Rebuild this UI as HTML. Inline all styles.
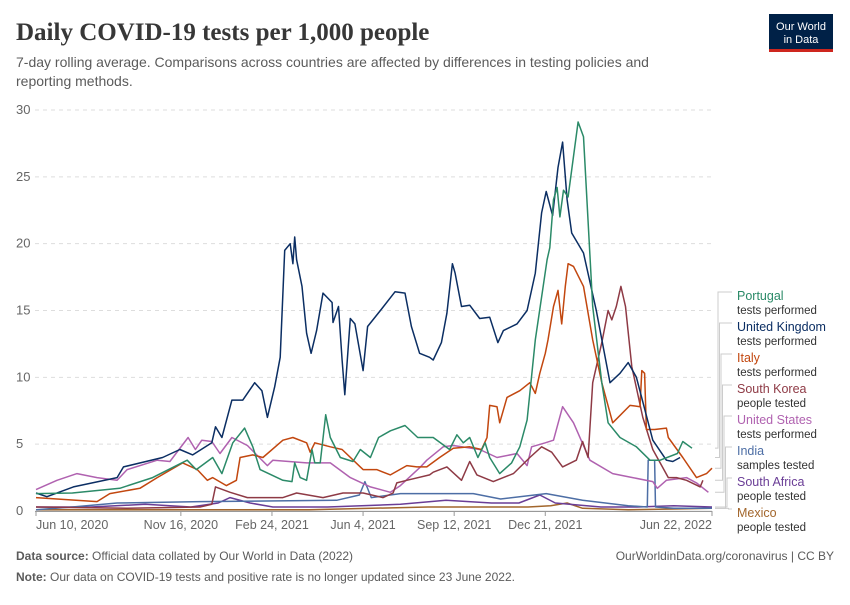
<!DOCTYPE html>
<html><head><meta charset="utf-8"><style>
body{margin:0;background:#fff;width:850px;height:600px;overflow:hidden;font-family:"Liberation Sans",sans-serif}
</style></head><body>
<svg width="850" height="600" xmlns="http://www.w3.org/2000/svg">
<text x="16" y="40" font-family="Liberation Serif,serif" font-size="25" font-weight="bold" fill="#373737">Daily COVID-19 tests per 1,000 people</text>
<text x="16" y="67" font-size="14" fill="#5b5b5b">7-day rolling average. Comparisons across countries are affected by differences in testing policies and</text>
<text x="16" y="86" font-size="14" fill="#5b5b5b">reporting methods.</text>
<g>
<rect x="769" y="14" width="64" height="38" fill="#002147"/>
<rect x="769" y="49" width="64" height="3" fill="#ce261e"/>
<text x="801" y="30" font-size="11" fill="#fff" text-anchor="middle">Our World</text>
<text x="801" y="43" font-size="11" fill="#fff" text-anchor="middle">in Data</text>
</g>
<g id="grid"></g><g id="xaxis"></g><g id="series"></g><g id="legend"></g>
<text x="16" y="560" font-size="12" fill="#5b5b5b"><tspan font-weight="bold">Data source:</tspan> Official data collated by Our World in Data (2022)</text>
<text x="834" y="560" font-size="12" fill="#5b5b5b" text-anchor="end">OurWorldinData.org/coronavirus | CC BY</text>
<text x="16" y="581" font-size="12" fill="#5b5b5b"><tspan font-weight="bold">Note:</tspan> Our data on COVID-19 tests and positive rate is no longer updated since 23 June 2022.</text>
</svg>
<script>
const yTicks=[0,5,10,15,20,25,30];
const xTickDays=[0,159,259,359,459,559,742];
const xTickLabels=["Jun 10, 2020","Nov 16, 2020","Feb 24, 2021","Jun 4, 2021","Sep 12, 2021","Dec 21, 2021","Jun 22, 2022"];
const seriesNames=["Portugal","United Kingdom","Italy","South Korea","United States","India","South Africa","Mexico"];
const seriesMetrics=["tests performed","tests performed","tests performed","people tested","tests performed","samples tested","people tested","people tested"];
const seriesColors=["#2b8a68","#0b2e63","#c2470f","#8e3a45","#b062b0","#4d6ea5","#6a3d96","#a2662c"];
const ukDays=[0,12,41,89,96,139,158,172,193,197,204,215,227,240,248,254,262,268,273,279,282,284,286,292,297,302,308,315,325,326,332,336,339,345,350,359,364,378,394,405,412,421,432,436,445,451,457,460,467,476,487,498,507,513,528,539,548,555,560,567,573,578,583,588,601,615,630,641,650,659,677,692,699,707];
const ukVals=[1.35,1.07,1.8,2.5,3.3,4.0,4.6,4.2,5.1,6.3,5.5,8.3,8.3,9.6,9.0,7.0,9.3,11.5,19.5,20.0,18.5,20.5,18.8,16.8,13.3,11.8,13.5,16.3,15.6,14.1,15.3,11.3,8.7,14.4,14.0,10.5,13.8,15.0,16.4,16.3,13.8,11.8,11.5,11.3,12.6,14.8,18.5,17.8,15.3,15.4,14.4,14.5,12.6,13.5,14.0,15.0,17.8,22.3,23.9,22.1,25.7,27.6,23.3,20.8,19.3,15.0,9.6,10.3,11.1,10.0,5.3,3.8,3.7,4.0];
const ptDays=[0,40,92,128,166,176,194,204,216,229,238,246,271,281,284,290,297,303,306,312,318,323,334,348,356,367,376,389,405,419,436,454,462,469,476,485,493,498,509,522,531,539,548,561,564,568,572,575,579,584,595,601,611,621,628,641,659,674,685,704,710,720];
const ptVals=[1.3,1.35,1.7,2.5,3.8,3.1,4.0,2.8,5.1,6.2,4.8,3.1,2.3,2.2,3.6,2.5,2.3,4.6,3.6,3.6,7.2,5.5,4.0,3.7,4.6,4.0,5.5,6.0,6.4,5.5,5.5,4.6,5.7,5.1,5.5,4.0,5.1,4.0,2.8,3.6,4.8,6.8,12.8,18.8,19.7,23.3,24.2,22.0,24.0,23.5,29.1,28.0,15.3,9.6,6.6,5.5,4.8,3.8,3.8,4.3,5.2,4.7];
const itDays=[0,67,81,114,133,161,177,188,194,209,220,224,238,249,271,282,297,301,306,323,336,356,359,374,389,407,418,429,443,458,476,489,495,498,506,509,517,531,542,548,553,559,562,568,573,577,581,584,590,601,611,621,633,652,663,665,668,670,679,692,694,710,725,736,742];
const itVals=[1.0,0.7,1.3,1.7,2.5,3.6,3.1,2.3,2.5,1.9,2.3,4.0,4.2,4.0,5.3,5.5,5.1,4.4,5.1,4.8,4.6,3.3,3.1,3.1,2.7,3.4,3.3,3.3,4.0,4.7,4.8,4.6,5.5,7.9,7.8,6.6,8.5,9.0,9.6,8.8,10.3,11.8,12.8,15.3,16.5,14.0,16.8,18.5,18.3,16.8,12.8,9.6,6.6,7.9,7.8,10.5,10.3,6.1,6.1,6.2,5.5,4.0,2.5,2.8,3.2];
const krDays=[0,100,180,193,197,213,232,257,271,286,315,337,359,381,392,396,407,432,436,451,467,476,484,502,524,542,555,566,578,593,600,606,611,621,628,632,637,642,647,654,666,677,694,703,714,729,732];
const krVals=[0.3,0.2,0.3,0.5,1.8,1.4,1.0,1.0,1.0,1.35,1.0,1.35,1.35,1.0,1.35,2.1,2.3,2.7,2.9,3.3,2.3,3.7,2.7,2.2,2.8,4.0,4.8,4.4,3.3,3.8,5.2,4.0,9.6,12.6,15.0,14.3,15.3,16.8,15.3,10.8,7.0,4.6,2.5,2.5,2.3,1.8,2.3];
const usDays=[0,23,45,67,89,100,133,147,167,175,182,193,202,215,232,254,260,297,323,345,367,389,400,422,429,447,458,487,506,528,539,544,559,568,578,590,608,633,655,677,682,692,714,725,738];
const usVals=[1.6,2.3,2.8,2.5,2.3,3.1,3.8,3.7,5.5,4.6,5.3,5.2,4.3,5.5,4.9,3.4,3.8,3.6,3.6,2.5,1.8,1.4,1.9,3.3,3.8,4.8,4.9,4.6,4.0,4.3,3.4,4.8,5.1,5.3,7.8,6.6,3.8,2.8,2.5,2.2,1.7,2.3,2.5,2.1,1.4];
const inDays=[0,40,89,180,330,355,361,368,400,480,510,560,600,650,671,672,679,680,700,742];
const inVals=[0.1,0.3,0.6,0.7,0.8,1.2,2.2,1.0,1.3,1.3,0.9,1.3,0.8,0.4,0.3,3.8,3.8,0.3,0.2,0.2];
const saDays=[0,60,120,170,200,213,235,260,320,400,450,500,530,553,570,620,660,700,742];
const saVals=[0.3,0.3,0.5,0.3,0.6,1.0,0.6,0.3,0.3,0.5,0.8,0.6,0.6,1.2,0.6,0.3,0.3,0.4,0.3];
const mxDays=[0,200,300,430,540,565,583,600,650,700,742];
const mxVals=[0.1,0.1,0.1,0.3,0.3,0.4,0.6,0.2,0.1,0.15,0.2];
const allDays=[ptDays,ukDays,itDays,krDays,usDays,inDays,saDays,mxDays];
const allVals=[ptVals,ukVals,itVals,krVals,usVals,inVals,saVals,mxVals];
const NS="http://www.w3.org/2000/svg";
const X0=36,X1=712,DMAX=742,Y0=511,YTOP=110,VMAX=30;
function xs(d){return X0+d*(X1-X0)/DMAX;}
function ys(v){return Y0-v*(Y0-YTOP)/VMAX;}
function mk(tag,attrs,parent){const e=document.createElementNS(NS,tag);for(const k in attrs)e.setAttribute(k,attrs[k]);parent.appendChild(e);return e;}
const grid=document.getElementById('grid');
yTicks.forEach(v=>{
  const l=mk('line',{x1:35,x2:X1,y1:ys(v),y2:ys(v),stroke:'#ddd','stroke-dasharray':v===0?'':'4,4'},grid);
  
  
  const t=mk('text',{x:16,y:ys(v)+4,'font-size':13,fill:'#666'},grid);t.textContent=v;
  
  
});
const xa=document.getElementById('xaxis');
mk('line',{x1:35,x2:X1,y1:Y0+0.5,y2:Y0+0.5,stroke:'#999'},xa);
xTickDays.forEach((d,i)=>{
  mk('line',{x1:xs(d),x2:xs(d),y1:Y0,y2:Y0+5,stroke:'#999'},xa);
  const anchor=i===0?'start':(i===xTickDays.length-1?'end':'middle');
  const t=mk('text',{x:xs(d),y:Y0+18,'font-size':12.5,fill:'#666','text-anchor':anchor},xa);t.textContent=xTickLabels[i];
  
  
});
const sg=document.getElementById('series');
for(let s=allDays.length-1;s>=0;s--){
  const pts=allDays[s].map((d,i)=>xs(d).toFixed(1)+','+ys(allVals[s][i]).toFixed(1)).join(' ');
  const p=mk('polyline',{points:pts,fill:'none',stroke:seriesColors[s],'stroke-width':1.5,'stroke-linejoin':'round'},sg);
  
  
}
const lg=document.getElementById('legend');
seriesNames.forEach((n,i)=>{
  const ly=296+i*31;
  const v=allVals[i];
  const ey=ys(v[v.length-1]);
  const bx=718+i*1.5;
  mk('polyline',{points:`${X1+3},${ey} ${bx},${ey} ${bx},${ly-4} 732,${ly-4}`,fill:'none',stroke:'#ccc','stroke-width':1},lg);
  const t=mk('text',{x:737,y:ly+4,'font-size':12.5,fill:seriesColors[i]},lg);t.textContent=n;
  
  
  const m=mk('text',{x:737,y:ly+18,'font-size':11.5,fill:'#333'},lg);m.textContent=seriesMetrics[i];
  
  
});
</script>
</body></html>
